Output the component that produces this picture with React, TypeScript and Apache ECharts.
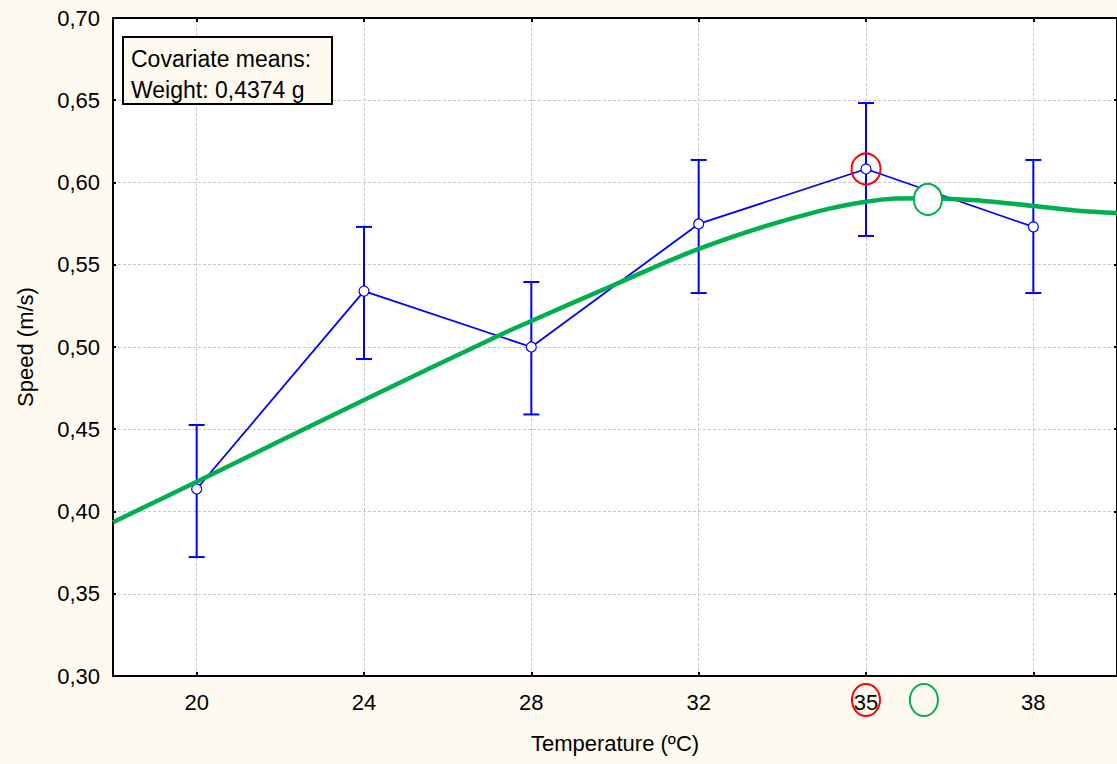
import React, { useEffect, useRef } from "react";
import * as echarts from "echarts";

// Temperature groups (ºC)
const temperatures = ["20", "24", "28", "32", "35", "38"];
// Adjusted mean speed (m/s) per temperature
const meanSpeed = [0.4137, 0.534, 0.5, 0.5748, 0.6082, 0.573];
// Confidence interval bounds (m/s)
const lowerBound = [0.3723, 0.4927, 0.459, 0.5328, 0.5675, 0.5328];
const upperBound = [0.4526, 0.573, 0.5395, 0.6137, 0.6483, 0.6137];
// Fitted response curve: [category position, speed]
const fitX = [-0.5, 0, 1, 1.8, 2, 2.5, 3, 3.5, 4, 4.35, 4.7, 5, 5.25, 5.5];
const fitY = [0.3935, 0.4181, 0.4678, 0.5067, 0.5158, 0.538, 0.5596, 0.5765, 0.5883, 0.5905, 0.5888, 0.5857, 0.583, 0.5815];
// Optimum on the fitted curve (category position)
const optimumX = 4.37;
const optimumY = 0.5897;
// Highlighted group
const highlightIndex = 4;
// Y ticks
const yMin = 0.3;
const yMax = 0.7;
const yStep = 0.05;

const FONT = "Liberation Sans";
const FS = 22;
const BG = "#fffaf0";
const BLUE = "#0000ff";
const GREEN = "#00b050";

export default function App() {
  const ref = useRef<HTMLDivElement>(null);

  useEffect(() => {
    if (!ref.current) return;
    const chart = echarts.init(ref.current, undefined, { renderer: "svg" });

    const errorData = temperatures.map((_, i) => [i, lowerBound[i], upperBound[i]]);
    const fitData = fitX.map((x, i) => [x, fitY[i]]);
    const fmt = (v: number) => v.toFixed(2).replace(".", ",");
    const gridSplit = { show: true, lineStyle: { color: "#c8c8c8", type: [3, 2] as any, width: 1 } };
    const frameLine = { show: true, onZero: false, lineStyle: { color: "#000", width: 2 } };
    const labelStyle = { color: "#000", fontSize: FS, fontFamily: FONT };

    chart.setOption({
      animation: false,
      backgroundColor: BG,
      textStyle: { fontFamily: FONT, fontSize: FS },
      grid: { left: 113, top: 18, width: 1006, height: 658, backgroundColor: "#ffffff", show: true, borderWidth: 0 },
      xAxis: [
        {
          type: "category",
          data: temperatures,
          position: "bottom",
          boundaryGap: true,
          axisLine: frameLine,
          axisTick: { show: true, inside: true, length: 4, alignWithLabel: true, lineStyle: { color: "#000", width: 2 } },
          axisLabel: { ...labelStyle, margin: 15 },
          splitLine: { ...gridSplit, alignWithLabel: true },
          name: "Temperature (ºC)",
          nameLocation: "middle",
          nameGap: 56,
          nameTextStyle: labelStyle,
        },
        {
          type: "category",
          data: temperatures,
          position: "top",
          boundaryGap: true,
          axisLine: frameLine,
          axisTick: { show: true, inside: true, length: 4, alignWithLabel: true, lineStyle: { color: "#000", width: 2 } },
          axisLabel: { show: false },
          splitLine: { show: false },
        },
        {
          type: "value",
          min: -0.5,
          max: 5.5,
          show: false,
        },
      ],
      yAxis: [
        {
          type: "value",
          min: yMin,
          max: yMax,
          interval: yStep,
          position: "left",
          axisLine: frameLine,
          axisTick: { show: true, inside: true, length: 3, lineStyle: { color: "#000", width: 2 } },
          axisLabel: { ...labelStyle, margin: 13, formatter: fmt },
          splitLine: gridSplit,
          name: "Speed (m/s)",
          nameLocation: "middle",
          nameRotate: 90,
          nameGap: 77,
          nameTextStyle: labelStyle,
        },
        {
          type: "value",
          min: yMin,
          max: yMax,
          interval: yStep,
          position: "right",
          axisLine: frameLine,
          axisTick: { show: true, inside: true, length: 3, lineStyle: { color: "#000", width: 2 } },
          axisLabel: { show: false },
          splitLine: { show: false },
        },
      ],
      series: [
        {
          name: "CI",
          type: "custom",
          xAxisIndex: 0,
          yAxisIndex: 0,
          data: errorData,
          z: 2,
          renderItem: (params: any, api: any) => {
            const x = api.value(0);
            const lo = api.coord([x, api.value(1)]);
            const hi = api.coord([x, api.value(2)]);
            const half = 8;
            const style = { stroke: BLUE, lineWidth: 2 };
            return {
              type: "group",
              children: [
                { type: "line", shape: { x1: lo[0], y1: lo[1], x2: hi[0], y2: hi[1] }, style },
                { type: "line", shape: { x1: lo[0] - half, y1: lo[1], x2: lo[0] + half, y2: lo[1] }, style },
                { type: "line", shape: { x1: hi[0] - half, y1: hi[1], x2: hi[0] + half, y2: hi[1] }, style },
              ],
            };
          },
        },
        {
          name: "Mean",
          type: "line",
          xAxisIndex: 0,
          yAxisIndex: 0,
          data: meanSpeed,
          z: 3,
          symbol: "circle",
          symbolSize: 10,
          itemStyle: { color: "#ffffff", borderColor: BLUE, borderWidth: 1.2 },
          lineStyle: { color: BLUE, width: 1.8 },
        },
        {
          name: "Highlight",
          type: "scatter",
          xAxisIndex: 0,
          yAxisIndex: 0,
          data: [[highlightIndex, meanSpeed[highlightIndex]]],
          z: 4,
          symbol: "circle",
          symbolSize: [29, 31],
          itemStyle: { color: "rgba(0,0,0,0)", borderColor: "#ff0000", borderWidth: 2, opacity: 1 },
        },
        {
          name: "Fit",
          type: "line",
          xAxisIndex: 2,
          yAxisIndex: 0,
          data: fitData,
          smooth: 0.4,
          z: 5,
          symbol: "none",
          lineStyle: { color: GREEN, width: 4.5 },
        },
        {
          name: "Optimum",
          type: "scatter",
          xAxisIndex: 2,
          yAxisIndex: 0,
          data: [[optimumX, optimumY]],
          z: 6,
          symbol: "circle",
          symbolSize: [28, 31],
          itemStyle: { color: "#ffffff", borderColor: GREEN, borderWidth: 2, opacity: 1 },
        },
      ],
    });

    // Circles around the tick label of the highlighted group and the optimum position
    const p35 = chart.convertToPixel({ xAxisIndex: 0, yAxisIndex: 0 } as any, [highlightIndex, yMin]) as number[];
    const pOpt = chart.convertToPixel({ xAxisIndex: 2, yAxisIndex: 0 } as any, [optimumX, yMin]) as number[];
    chart.setOption({
      graphic: [
        {
          type: "ellipse",
          shape: { cx: p35[0], cy: p35[1] + 24, rx: 14, ry: 16 },
          style: { fill: "none", stroke: "#ff0000", lineWidth: 2 },
          z: 10,
        },
        {
          type: "ellipse",
          shape: { cx: pOpt[0] - 4, cy: pOpt[1] + 24, rx: 14, ry: 16 },
          style: { fill: "none", stroke: GREEN, lineWidth: 2 },
          z: 10,
        },
        {
          type: "group",
          left: 122,
          top: 36,
          z: 10,
          children: [
            {
              type: "rect",
              shape: { x: 0, y: 0, width: 209, height: 67 },
              style: { fill: BG, stroke: "#000", lineWidth: 2 },
            },
            {
              type: "text",
              x: 8,
              y: 22,
              style: { text: "Covariate means:", fill: "#000", fontSize: 23, fontFamily: FONT, verticalAlign: "middle" },
            },
            {
              type: "text",
              x: 8,
              y: 53,
              style: { text: "Weight: 0,4374 g", fill: "#000", fontSize: 23, fontFamily: FONT, verticalAlign: "middle" },
            },
          ],
        },
      ],
    });

    return () => chart.dispose();
  }, []);

  return (
    <div
      ref={ref}
      style={{ position: "fixed", left: 0, top: 0, width: 1117, height: 764 }}
    />
  );
}
